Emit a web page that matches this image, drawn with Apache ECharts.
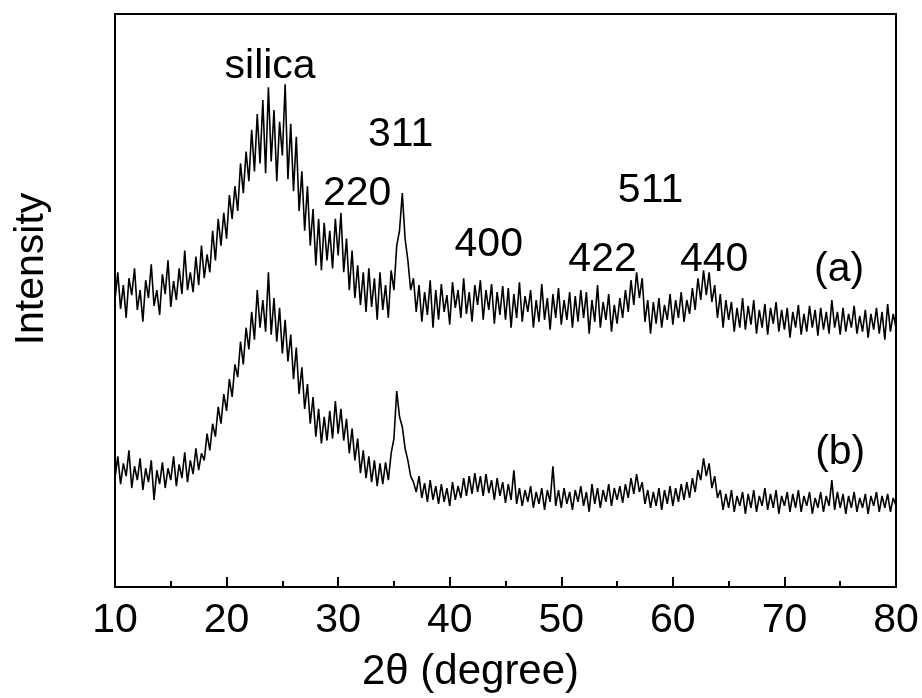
<!DOCTYPE html>
<html>
<head>
<meta charset="utf-8">
<script src="https://cdn.jsdelivr.net/npm/echarts@6/dist/echarts.min.js"></script>
<style>
html,body{margin:0;padding:0;background:#fff;}
#chart{width:922px;height:698px;}
</style>
</head>
<body>
<div id="chart"></div>
<script>
// Sampling grid of the diffractogram (2θ, degrees)
const angleStart = 10;
const angleStep = 0.25;

// Intensity (arbitrary units) of pattern (a), one row per degree
const intensityA = [
  290, 318, 281, 305,
  272, 312, 295, 322,
  280, 300, 268, 310,
  292, 326, 284, 300,
  275, 316, 296, 330,
  283, 309, 290, 322,
  296, 340, 300, 318,
  298, 334, 305, 345,
  312, 336, 318, 360,
  330, 372, 345, 378,
  352, 396, 372, 405,
  380, 428, 398, 440,
  410, 462, 420, 478,
  428, 492, 418, 505,
  430, 482, 410, 470,
  436, 508, 412, 468,
  400, 455, 380, 420,
  360, 405, 345, 382,
  325, 372, 320, 368,
  330, 360, 322, 372,
  335, 378, 318, 352,
  300, 340, 292, 325,
  285, 318, 278, 322,
  283, 312, 270, 318,
  280, 305, 272, 320,
  300, 345, 360, 398,
  352, 330, 300, 312,
  278, 305, 268, 298,
  275, 310, 262, 300,
  270, 306, 278, 295,
  265, 308, 282, 300,
  272, 312, 276, 298,
  268, 305, 285, 310,
  270, 300, 280, 306,
  266, 298, 275, 304,
  270, 302, 262, 296,
  272, 308, 268, 294,
  278, 300, 262, 290,
  268, 306, 270, 292,
  260, 296, 272, 302,
  265, 290, 270, 298,
  262, 294, 268, 300,
  272, 298, 256, 290,
  268, 305, 262, 288,
  270, 296, 258, 285,
  266, 292, 272, 300,
  278, 310, 285, 318,
  292, 312, 268, 290,
  256, 288, 266, 292,
  262, 285, 270, 296,
  265, 290, 272, 298,
  268, 290, 276, 302,
  280, 312, 290, 320,
  295, 318, 288, 305,
  272, 296, 262, 290,
  270, 288, 258, 282,
  262, 292, 260, 284,
  265, 290, 256, 280,
  262, 286, 255, 282,
  266, 288, 258, 280,
  260, 282, 252, 278,
  262, 285, 255, 276,
  258, 284, 262, 280,
  254, 282, 260, 278,
  256, 290, 262, 278,
  255, 282, 258, 276,
  262, 284, 256, 274,
  258, 280, 252, 276,
  260, 282, 256, 278,
  250, 286, 258, 276,
  262
];

// Intensity (arbitrary units) of pattern (b)
const intensityB = [
  110, 132, 104, 125,
  112, 138, 100, 122,
  108, 130, 98, 120,
  106, 128, 88, 118,
  104, 126, 100, 120,
  108, 132, 102, 124,
  110, 136, 106, 128,
  114, 140, 118, 135,
  128, 155, 138, 165,
  152, 182, 165, 195,
  178, 210, 192, 225,
  212, 248, 225, 262,
  240, 278, 250, 300,
  262, 290, 258, 318,
  255, 292, 248, 282,
  236, 270, 228, 255,
  210, 242, 195, 222,
  180, 205, 165, 192,
  152, 180, 145, 172,
  148, 178, 150, 188,
  155, 180, 148, 170,
  135, 160, 128, 150,
  115, 138, 110, 132,
  106, 128, 102, 125,
  104, 126, 108, 135,
  150, 198, 172, 162,
  140, 128, 112, 106,
  96, 112, 90, 105,
  86, 108, 88, 102,
  84, 104, 86, 100,
  82, 106, 88, 102,
  90, 110, 92, 112,
  94, 115, 96, 112,
  92, 114, 95, 108,
  88, 110, 92, 106,
  85, 104, 88, 118,
  84, 100, 82, 98,
  86, 102, 80, 96,
  84, 100, 78, 98,
  86, 122, 82, 98,
  80, 100, 84, 96,
  78, 98, 86, 102,
  82, 96, 76, 104,
  84, 100, 80, 98,
  86, 104, 82, 100,
  88, 102, 85, 104,
  90, 110, 94, 114,
  96, 106, 84, 98,
  80, 96, 82, 100,
  78, 98, 84, 102,
  82, 100, 86, 104,
  88, 106, 90, 110,
  96, 118, 108, 130,
  112, 125, 100, 112,
  90, 98, 78, 94,
  80, 98, 76, 92,
  82, 96, 74, 94,
  80, 98, 76, 92,
  82, 100, 78, 94,
  80, 98, 74, 92,
  82, 96, 76, 94,
  80, 98, 76, 92,
  82, 96, 74, 90,
  80, 96, 76, 92,
  82, 108, 78, 96,
  80, 94, 74, 92,
  80, 96, 76, 90,
  80, 94, 74, 92,
  82, 96, 76, 92,
  80, 94, 76, 90,
  82
];

// Peak annotations (text, 2θ position, intensity position)
const peakLabels = ['silica', '311', '220', '400', '511', '422', '440', '(a)', '(b)'];
const peakLabelAngle = [23.9, 35.6, 31.7, 43.5, 58.0, 53.7, 63.7, 74.9, 75.0];
const peakLabelLevel = [526, 457, 397, 346, 400, 331, 331, 321, 136];

// X axis ticks
const xMin = 10, xMax = 80, xInterval = 10;
const yMin = 0, yMax = 579;

const FONT = '"Liberation Sans", Arial, Helvetica, sans-serif';

function toPairs(arr) {
  return arr.map((v, i) => [angleStart + i * angleStep, v]);
}

const chart = echarts.init(document.getElementById('chart'), null, {renderer: 'canvas'});
chart.setOption({
  animation: false,
  backgroundColor: '#ffffff',
  grid: {
    left: 115, right: 26, top: 14, bottom: 105,
    show: true, borderColor: '#000', borderWidth: 2, backgroundColor: 'transparent'
  },
  xAxis: {
    type: 'value', min: xMin, max: xMax, interval: xInterval,
    name: '2θ (degree)', nameLocation: 'middle', nameGap: 64,
    nameTextStyle: {fontFamily: FONT, fontSize: 42, color: '#000', padding: [0, 70, 0, 0]},
    axisLine: {show: true, lineStyle: {color: '#000', width: 2}},
    axisTick: {show: true, inside: true, length: 10, lineStyle: {color: '#000', width: 2}},
    minorTick: {show: true, splitNumber: 2, length: 6, lineStyle: {color: '#000', width: 2}},
    axisLabel: {fontFamily: FONT, fontSize: 41, color: '#000', margin: 13},
    splitLine: {show: false}
  },
  yAxis: {
    type: 'value', min: yMin, max: yMax,
    axisLine: {show: true, lineStyle: {color: '#000', width: 2}},
    axisTick: {show: false}, axisLabel: {show: false}, splitLine: {show: false}
  },
  graphic: [{
    type: 'text', x: 32, y: 269, rotation: Math.PI / 2,
    style: {text: 'Intensity', fontFamily: FONT, fontSize: 41, fill: '#000', align: 'center', verticalAlign: 'middle'}
  }],
  series: [
    {
      name: '(a)', type: 'line', data: toPairs(intensityA), showSymbol: false, symbol: 'none',
      lineStyle: {color: '#000', width: 1.6}, sampling: null, silent: true,
      markPoint: {
        symbol: 'circle', symbolSize: 0,
        label: {show: true, position: 'inside', formatter: '{b}', fontFamily: FONT, fontSize: 41, color: '#000'},
        data: peakLabels.map((t, i) => ({name: t, coord: [peakLabelAngle[i], peakLabelLevel[i]]}))
      }
    },
    {
      name: '(b)', type: 'line', data: toPairs(intensityB), showSymbol: false, symbol: 'none',
      lineStyle: {color: '#000', width: 1.6}, sampling: null, silent: true
    }
  ]
});
</script>
</body>
</html>
